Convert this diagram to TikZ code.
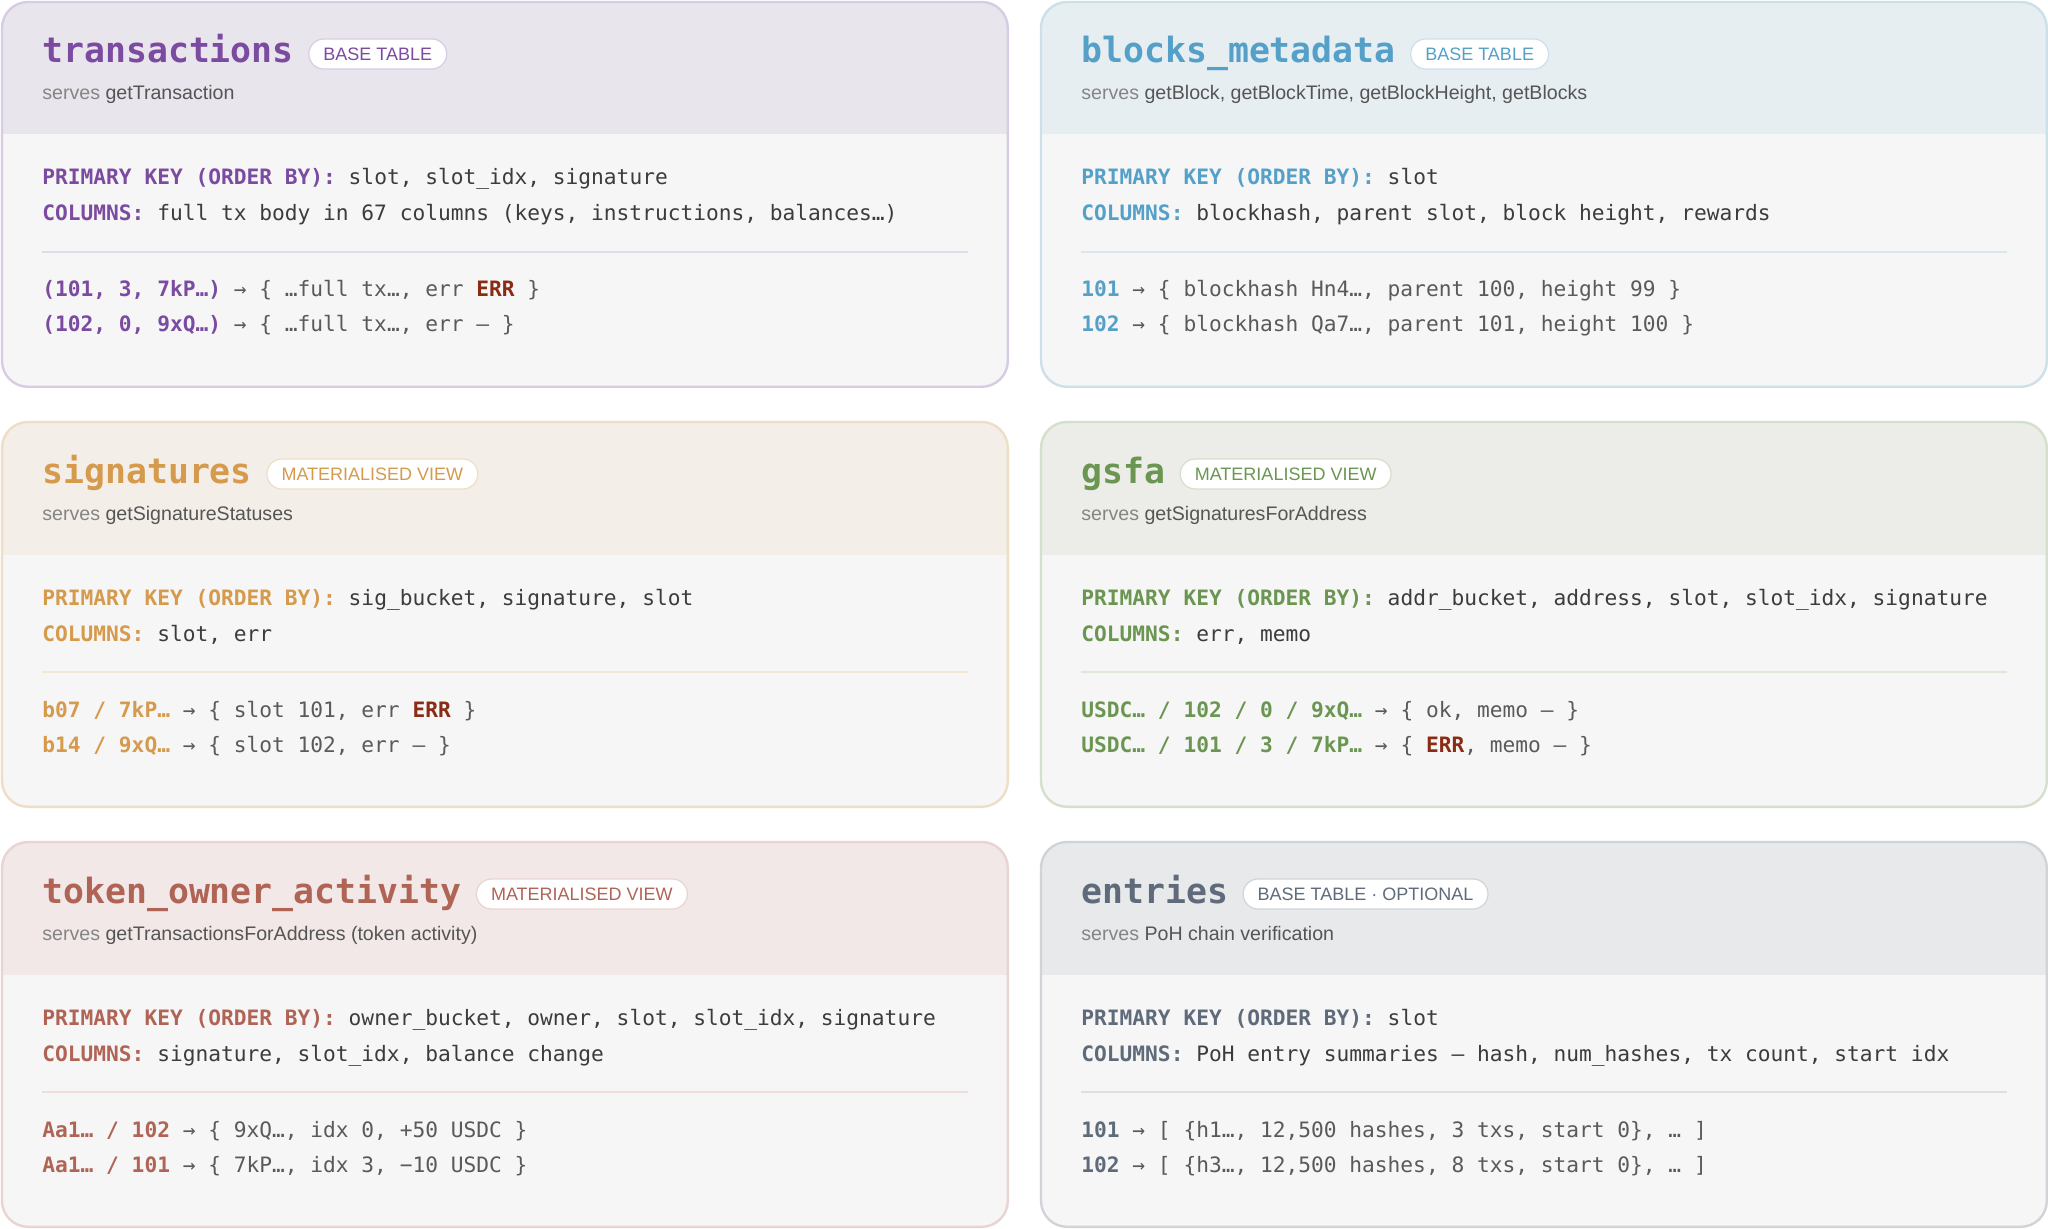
\documentclass[tikz,border=0pt]{standalone}
\usepackage{fontspec}
\setmainfont{Liberation Sans}
\setsansfont{Liberation Sans}
\setmonofont{DejaVu Sans Mono}
\usetikzlibrary{positioning}

\definecolor{bodybg}{HTML}{F6F6F6}
\definecolor{valgrey}{HTML}{3C3C3C}
\definecolor{rowgrey}{HTML}{5A5A5A}
\definecolor{servesgrey}{HTML}{858585}
\definecolor{namegrey}{HTML}{555555}
\definecolor{errred}{HTML}{8A2C14}
\definecolor{txmain}{HTML}{7B4AA1}
\definecolor{txhead}{HTML}{E9E5EC}
\definecolor{txline}{HTML}{D8CCE4}
\definecolor{bkmain}{HTML}{55A0C8}
\definecolor{bkhead}{HTML}{E7EEF2}
\definecolor{bkline}{HTML}{CCE0EA}
\definecolor{sgmain}{HTML}{D59A4C}
\definecolor{sghead}{HTML}{F3EEE8}
\definecolor{sgline}{HTML}{EFDEC6}
\definecolor{gsmain}{HTML}{6B9652}
\definecolor{gshead}{HTML}{ECEDE8}
\definecolor{gsline}{HTML}{D4DFCC}
\definecolor{tomain}{HTML}{B06456}
\definecolor{tohead}{HTML}{F1E8E7}
\definecolor{toline}{HTML}{E8D4D0}
\definecolor{enmain}{HTML}{5F6B7B}
\definecolor{enhead}{HTML}{E8E9EB}
\definecolor{enline}{HTML}{D0D4D9}

% one table card: name, top left, colour prefix, title, badge, serves, key, columns
\newcommand{\dbcard}[8]{%
  \node[card, anchor=north west] (#1) at #2 {};
  \begin{scope}
    \clip (#1.north west) rectangle ([yshift=-66pt]#1.north east);
    \fill[#3head, rounded corners=13pt] (#1.north west) rectangle (#1.south east);
  \end{scope}
  \draw[#3line, line width=1.2pt, rounded corners=13pt] (#1.north west) rectangle (#1.south east);
  \node[tabletitle, text=#3main, anchor=base west] (#1-title) at ([shift={(40,61)}]#1.north west) {#4};
  \node[badge, text=#3main, draw=#3line, right=7pt of #1-title] (#1-badge) {#5};
  \node[serves, anchor=base west] (#1-serves) at ([shift={(40,98)}]#1.north west) {\textcolor{servesgrey}{serves} #6};
  \node[keyline, anchor=base west] (#1-key) at ([shift={(40,183)}]#1.north west) {\textcolor{#3main}{\bfseries PRIMARY KEY (ORDER BY):} #7};
  \node[keyline, anchor=base west] (#1-cols) at ([shift={(40,219)}]#1.north west) {\textcolor{#3main}{\bfseries COLUMNS:} #8};
  \draw[#3line!75, line width=0.6pt] ([shift={(40,250)}]#1.north west) -- ([shift={(-40,250)}]#1.north east);
}

\begin{document}
\begin{tikzpicture}[x=0.5pt, y=-0.5pt,
  card/.style={rectangle, fill=bodybg, rounded corners=13pt, minimum width=502.5pt, minimum height=192pt, inner sep=0pt},
  tabletitle/.style={inner sep=0pt, text height=13pt, text depth=4pt, font=\ttfamily\bfseries\fontsize{17.4pt}{20pt}\selectfont},
  badge/.style={fill=white, line width=0.6pt, rounded corners=7.5pt, inner xsep=7.3pt, inner ysep=0pt, minimum height=15pt, text height=6.6pt, text depth=0pt, font=\sffamily\fontsize{9pt}{10pt}\selectfont},
  serves/.style={inner sep=0pt, text=namegrey, font=\sffamily\fontsize{9.8pt}{12pt}\selectfont},
  keyline/.style={inner sep=0pt, text=valgrey, font=\ttfamily\fontsize{10.6pt}{13pt}\selectfont},
  rowtext/.style={inner sep=0pt, text=rowgrey, font=\ttfamily\fontsize{10.6pt}{13pt}\selectfont}]

\useasboundingbox[fill=white] (0,0) rectangle (2048,1229);

% transactions
\dbcard{tx}{(2,2)}{tx}{transactions}{BASE TABLE}{getTransaction}
  {slot, slot\_idx, signature}{full tx body in 67 columns (keys, instructions, balances…)}
\node[rowtext, anchor=base west] (tx-row1) at ([shift={(40,295)}]tx.north west)
  {\textcolor{txmain}{\bfseries (101, 3, 7kP…)} → \{ …full tx…, err \textcolor{errred}{\bfseries ERR} \}};
\node[rowtext, anchor=base west] (tx-row2) at ([shift={(40,330)}]tx.north west)
  {\textcolor{txmain}{\bfseries (102, 0, 9xQ…)} → \{ …full tx…, err — \}};

% blocks_metadata
\dbcard{bk}{(1041,2)}{bk}{blocks\_metadata}{BASE TABLE}{getBlock, getBlockTime, getBlockHeight, getBlocks}
  {slot}{blockhash, parent slot, block height, rewards}
\node[rowtext, anchor=base west] (bk-row1) at ([shift={(40,295)}]bk.north west)
  {\textcolor{bkmain}{\bfseries 101} → \{ blockhash Hn4…, parent 100, height 99 \}};
\node[rowtext, anchor=base west] (bk-row2) at ([shift={(40,330)}]bk.north west)
  {\textcolor{bkmain}{\bfseries 102} → \{ blockhash Qa7…, parent 101, height 100 \}};

% signatures
\dbcard{sg}{(2,422)}{sg}{signatures}{MATERIALISED VIEW}{getSignatureStatuses}
  {sig\_bucket, signature, slot}{slot, err}
\node[rowtext, anchor=base west] (sg-row1) at ([shift={(40,295)}]sg.north west)
  {\textcolor{sgmain}{\bfseries b07 / 7kP…} → \{ slot 101, err \textcolor{errred}{\bfseries ERR} \}};
\node[rowtext, anchor=base west] (sg-row2) at ([shift={(40,330)}]sg.north west)
  {\textcolor{sgmain}{\bfseries b14 / 9xQ…} → \{ slot 102, err — \}};

% gsfa
\dbcard{gs}{(1041,422)}{gs}{gsfa}{MATERIALISED VIEW}{getSignaturesForAddress}
  {addr\_bucket, address, slot, slot\_idx, signature}{err, memo}
\node[rowtext, anchor=base west] (gs-row1) at ([shift={(40,295)}]gs.north west)
  {\textcolor{gsmain}{\bfseries USDC… / 102 / 0 / 9xQ…} → \{ ok, memo — \}};
\node[rowtext, anchor=base west] (gs-row2) at ([shift={(40,330)}]gs.north west)
  {\textcolor{gsmain}{\bfseries USDC… / 101 / 3 / 7kP…} → \{ \textcolor{errred}{\bfseries ERR}, memo — \}};

% token_owner_activity
\dbcard{to}{(2,842)}{to}{token\_owner\_activity}{MATERIALISED VIEW}{getTransactionsForAddress (token activity)}
  {owner\_bucket, owner, slot, slot\_idx, signature}{signature, slot\_idx, balance change}
\node[rowtext, anchor=base west] (to-row1) at ([shift={(40,295)}]to.north west)
  {\textcolor{tomain}{\bfseries Aa1… / 102} → \{ 9xQ…, idx 0, +50 USDC \}};
\node[rowtext, anchor=base west] (to-row2) at ([shift={(40,330)}]to.north west)
  {\textcolor{tomain}{\bfseries Aa1… / 101} → \{ 7kP…, idx 3, −10 USDC \}};

% entries
\dbcard{en}{(1041,842)}{en}{entries}{BASE TABLE · OPTIONAL}{PoH chain verification}
  {slot}{PoH entry summaries — hash, num\_hashes, tx count, start idx}
\node[rowtext, anchor=base west] (en-row1) at ([shift={(40,295)}]en.north west)
  {\textcolor{enmain}{\bfseries 101} → [ \{h1…, 12,500 hashes, 3 txs, start 0\}, … ]};
\node[rowtext, anchor=base west] (en-row2) at ([shift={(40,330)}]en.north west)
  {\textcolor{enmain}{\bfseries 102} → [ \{h3…, 12,500 hashes, 8 txs, start 0\}, … ]};

\end{tikzpicture}
\end{document}
